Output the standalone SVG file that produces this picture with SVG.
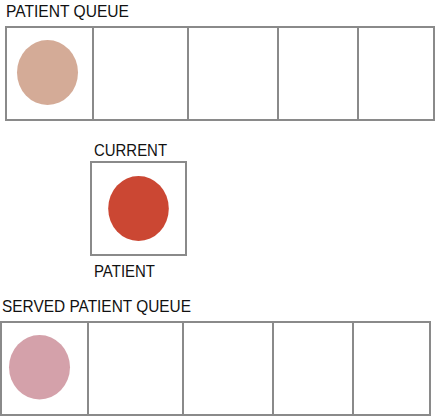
<svg xmlns="http://www.w3.org/2000/svg" width="436" height="417" viewBox="0 0 436 417">
<style>
.cell{fill:#ffffff;stroke:#8a8a8a;stroke-width:2}
.lbl{font-family:"Liberation Sans",Arial,sans-serif;font-size:17px;fill:#111111}
</style>
<rect width="436" height="417" fill="#ffffff"/>
<g id="patient-queue">
<text class="lbl" x="6" y="16.7" textLength="123" lengthAdjust="spacingAndGlyphs">PATIENT QUEUE</text>
<rect class="cell" x="6" y="27" width="87" height="93"/>
<rect class="cell" x="93" y="27" width="95" height="93"/>
<rect class="cell" x="188" y="27" width="90" height="93"/>
<rect class="cell" x="278" y="27" width="80" height="93"/>
<rect class="cell" x="358" y="27" width="76" height="93"/>
<ellipse cx="47.5" cy="72.5" rx="30.5" ry="32.5" fill="#d4ab97"/>
</g>
<g id="current-patient">
<text class="lbl" x="94" y="155.7" textLength="73" lengthAdjust="spacingAndGlyphs">CURRENT</text>
<rect class="cell" x="91" y="162" width="95" height="93"/>
<ellipse cx="138.5" cy="208.5" rx="30.3" ry="32.5" fill="#cb4733"/>
<text class="lbl" x="94" y="276.7" textLength="61" lengthAdjust="spacingAndGlyphs">PATIENT</text>
</g>
<g id="served-patient-queue">
<text class="lbl" x="2" y="312.3" textLength="189" lengthAdjust="spacingAndGlyphs">SERVED PATIENT QUEUE</text>
<rect class="cell" x="1" y="322" width="87" height="93"/>
<rect class="cell" x="88" y="322" width="95" height="93"/>
<rect class="cell" x="183" y="322" width="90" height="93"/>
<rect class="cell" x="273" y="322" width="80" height="93"/>
<rect class="cell" x="353" y="322" width="77" height="93"/>
<ellipse cx="39.5" cy="367.2" rx="30.5" ry="32.2" fill="#d4a1aa"/>
</g>
<g id="connectors"></g>
</svg>
